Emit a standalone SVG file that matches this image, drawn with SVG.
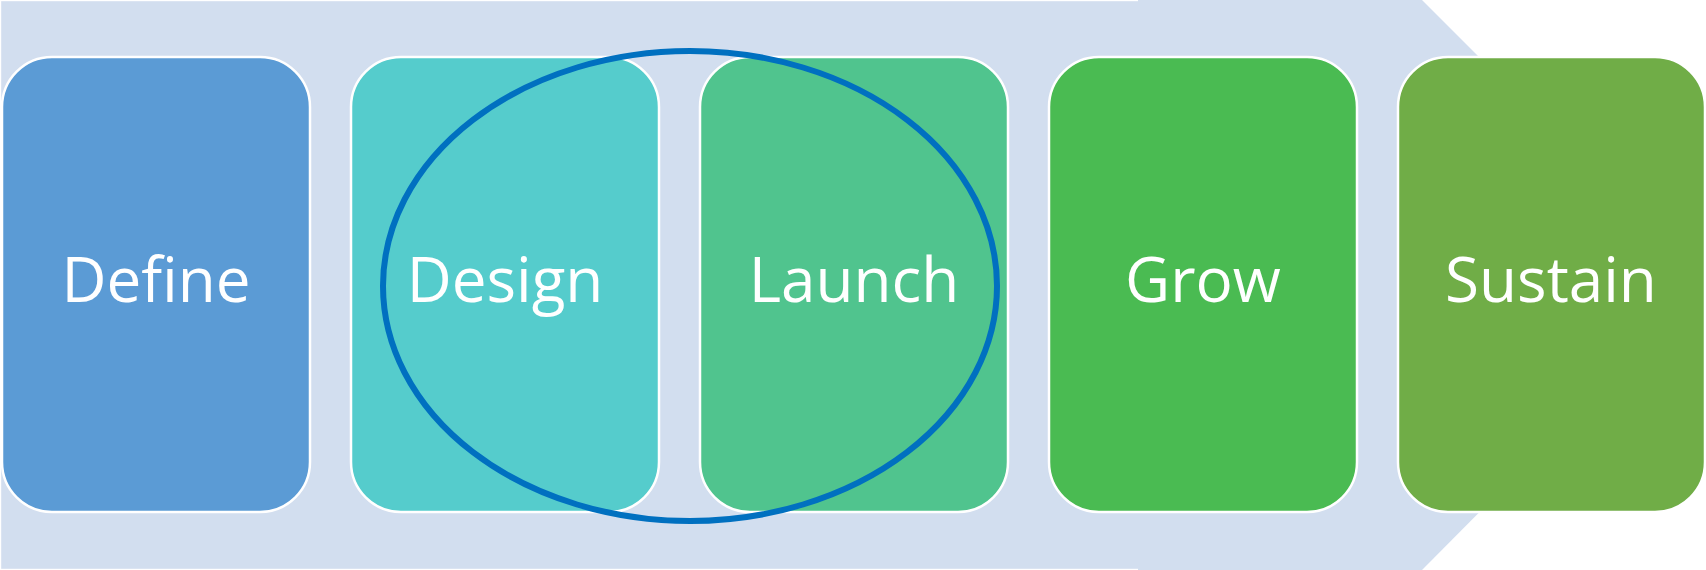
<svg xmlns="http://www.w3.org/2000/svg" width="1706" height="570" viewBox="0 0 1706 570">
<style>
.box{stroke:#FFFFFF;stroke-width:2.5}
.lbl{font-family:"Open Sans","Noto Sans","DejaVu Sans",sans-serif;font-size:62px;fill:#FFFFFF;text-anchor:middle}
</style>
<rect x="0" y="0" width="1706" height="570" fill="#FFFFFF"/>
<g id="background-arrow">
<polygon points="0,0 1422,0 1706,284 1422,570 0,570" fill="#D2DEEF"/>
<rect x="0" y="0" width="1138" height="1.2" fill="#FFFFFF"/>
<rect x="0" y="568.8" width="1138" height="1.2" fill="#FFFFFF"/>
<rect x="0" y="0" width="1.2" height="570" fill="#FFFFFF"/>
</g>
<g id="node-define">
<rect class="box" x="2" y="57" width="308" height="455" rx="50" fill="#5B9BD5"/>
<text class="lbl" x="156" y="302">Define</text>
</g>
<g id="node-design">
<rect class="box" x="351" y="57" width="308" height="455" rx="50" fill="#55CCCC"/>
<text class="lbl" x="505" y="302">Design</text>
</g>
<g id="node-launch">
<rect class="box" x="700" y="57" width="308" height="455" rx="50" fill="#50C48E"/>
<text class="lbl" x="854" y="302">Launch</text>
</g>
<g id="node-grow">
<rect class="box" x="1049" y="57" width="308" height="455" rx="50" fill="#4ABB52"/>
<text class="lbl" x="1203" y="302">Grow</text>
</g>
<g id="node-sustain">
<rect class="box" x="1398" y="57" width="307" height="455" rx="50" fill="#70AD47"/>
<text class="lbl" x="1551" y="302">Sustain</text>
</g>
<g id="connectors">
<ellipse cx="690" cy="286" rx="307" ry="235" fill="none" stroke="#0070C0" stroke-width="6"/>
</g>
</svg>
